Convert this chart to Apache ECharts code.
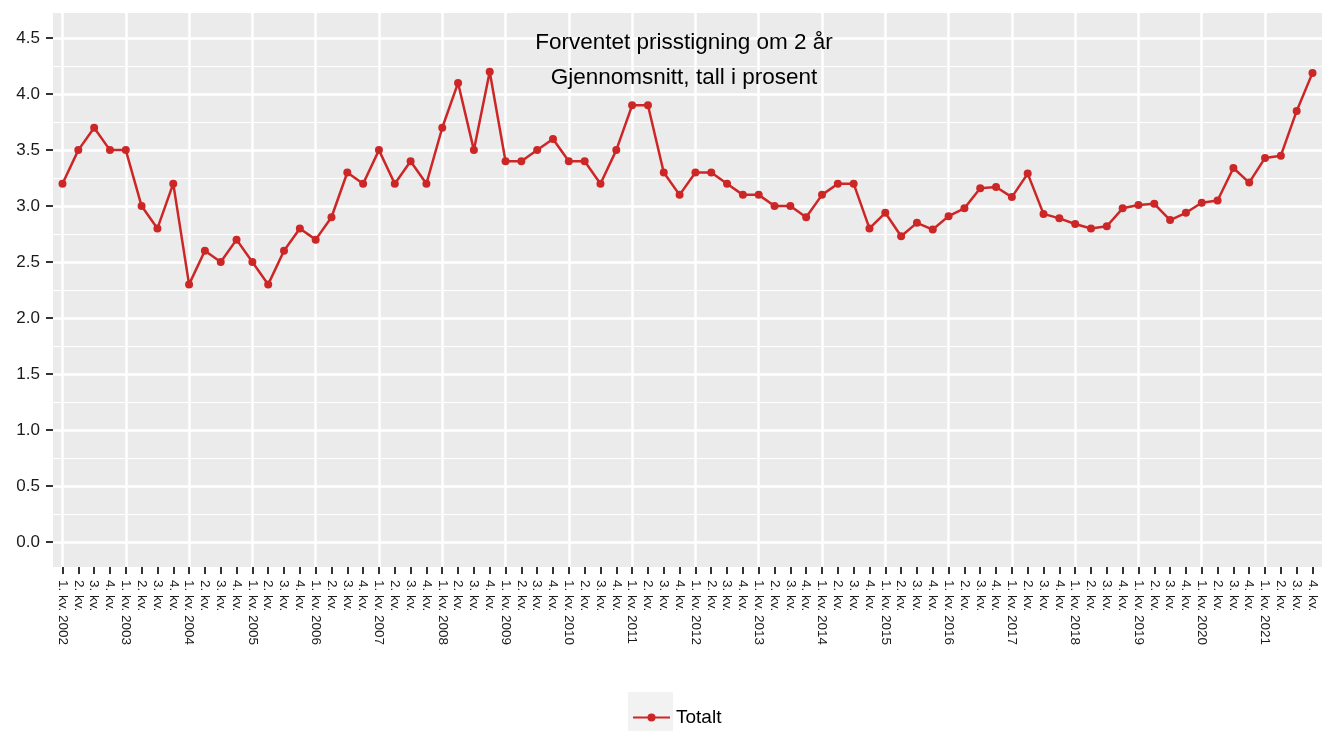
<!DOCTYPE html>
<html>
<head>
<meta charset="utf-8">
<script src="https://cdn.jsdelivr.net/npm/echarts@6/dist/echarts.min.js"></script>
<style>
  html, body { margin: 0; padding: 0; background: #fff; }
  #chart { width: 1322px; height: 731px; }
</style>
</head>
<body>
<div id="chart"></div>
<script>
// quarters 2002 Q1 .. 2021 Q4
const years = [2002, 2003, 2004, 2005, 2006, 2007, 2008, 2009, 2010, 2011,
  2012, 2013, 2014, 2015, 2016, 2017, 2018, 2019, 2020, 2021];
const quarterNames = ['1. kv.', '2. kv.', '3. kv.', '4. kv.'];
const categories = [];
years.forEach(y => quarterNames.forEach((q, i) => categories.push(i === 0 ? q + ' ' + y : q)));

const totalt = [
  3.2, 3.5, 3.7, 3.5, 3.5, 3.0, 2.8, 3.2,
  2.3, 2.6, 2.5, 2.7, 2.5, 2.3, 2.6, 2.8,
  2.7, 2.9, 3.3, 3.2, 3.5, 3.2, 3.4, 3.2,
  3.7, 4.1, 3.5, 4.2, 3.4, 3.4, 3.5, 3.6,
  3.4, 3.4, 3.2, 3.5, 3.9, 3.9, 3.3, 3.1,
  3.3, 3.3, 3.2, 3.1, 3.1, 3.0, 3.0, 2.9,
  3.1, 3.2, 3.2, 2.8, 2.94, 2.73, 2.85, 2.79,
  2.91, 2.98, 3.16, 3.17, 3.08, 3.29, 2.93, 2.89,
  2.84, 2.80, 2.82, 2.98, 3.01, 3.02, 2.875, 2.94,
  3.03, 3.05, 3.34, 3.21, 3.43, 3.45, 3.85, 4.19
];

const yTicks = [0, 0.5, 1, 1.5, 2, 2.5, 3, 3.5, 4, 4.5];
const yMinor = [0.25, 0.75, 1.25, 1.75, 2.25, 2.75, 3.25, 3.75, 4.25];
const xTicks = categories.map((c, i) => i);
const yearStarts = xTicks.filter(i => i % 4 === 0);

const titleText = 'Forventet prisstigning om 2 år\nGjennomsnitt, tall i prosent';
const red = '#CD2626';
const panel = '#EBEBEB';

const chart = echarts.init(document.getElementById('chart'));

chart.setOption({
  backgroundColor: '#fff',
  animation: false,
  textStyle: { fontFamily: 'Liberation Sans, Arial, sans-serif' },
  title: {
    text: titleText,
    left: 679,
    top: 20,
    textAlign: 'center',
    textStyle: { fontSize: 22.5, fontWeight: 'normal', color: '#000', lineHeight: 35 }
  },
  graphic: [
    { type: 'rect', shape: { x: 628, y: 692, width: 45, height: 40 }, style: { fill: '#F2F2F2' }, z: 0 }
  ],
  legend: {
    left: 632,
    top: 708,
    itemWidth: 37,
    itemHeight: 10,
    itemGap: 0,
    padding: 0,
    textStyle: { fontSize: 19, color: '#000', padding: [0, 0, 0, 1] },
    data: ['Totalt']
  },
  grid: {
    left: 53,
    right: -9,
    top: 13,
    bottom: 164,
    show: true,
    backgroundColor: panel,
    borderWidth: 0
  },
  xAxis: [
    {
      type: 'value',
      min: -0.6,
      max: 79.6,
      position: 'bottom',
      axisLine: { show: false, onZero: false },
      axisTick: { show: true, customValues: xTicks, length: 7, lineStyle: { color: '#333', width: 2 } },
      axisLabel: {
        customValues: xTicks,
        rotate: -90,
        margin: 13,
        fontSize: 13.5,
        color: '#1a1a1a',
        formatter: v => categories[v]
      },
      splitLine: { show: false }
    },
    {
      type: 'value',
      min: -0.6,
      max: 79.6,
      position: 'bottom',
      axisLine: { show: false, onZero: false },
      axisTick: { show: false, customValues: yearStarts },
      axisLabel: { show: false },
      splitLine: { show: true, lineStyle: { color: '#fff', width: 2.5 } }
    }
  ],
  yAxis: [
    {
      type: 'value',
      min: -0.225,
      max: 4.725,
      position: 'left',
      axisLine: { show: false, onZero: false },
      axisTick: { show: true, customValues: yTicks, length: 7, lineStyle: { color: '#333', width: 2 } },
      axisLabel: {
        customValues: yTicks,
        margin: 13,
        fontSize: 17,
        color: '#1a1a1a',
        formatter: v => v.toFixed(1)
      },
      splitLine: { show: true, lineStyle: { color: '#fff', width: 2.5 } }
    },
    {
      type: 'value',
      min: -0.225,
      max: 4.725,
      position: 'left',
      axisLine: { show: false, onZero: false },
      axisTick: { show: false, customValues: yMinor },
      axisLabel: { show: false },
      splitLine: { show: true, lineStyle: { color: '#fff', width: 1.2 } }
    }
  ],
  series: [
    {
      name: 'Totalt',
      type: 'line',
      xAxisIndex: 0,
      yAxisIndex: 0,
      data: totalt.map((v, i) => [i, v]),
      symbol: 'circle',
      symbolSize: 8,
      showSymbol: true,
      itemStyle: { color: red },
      lineStyle: { color: red, width: 2.5 },
      z: 5
    }
  ]
});
</script>
</body>
</html>
